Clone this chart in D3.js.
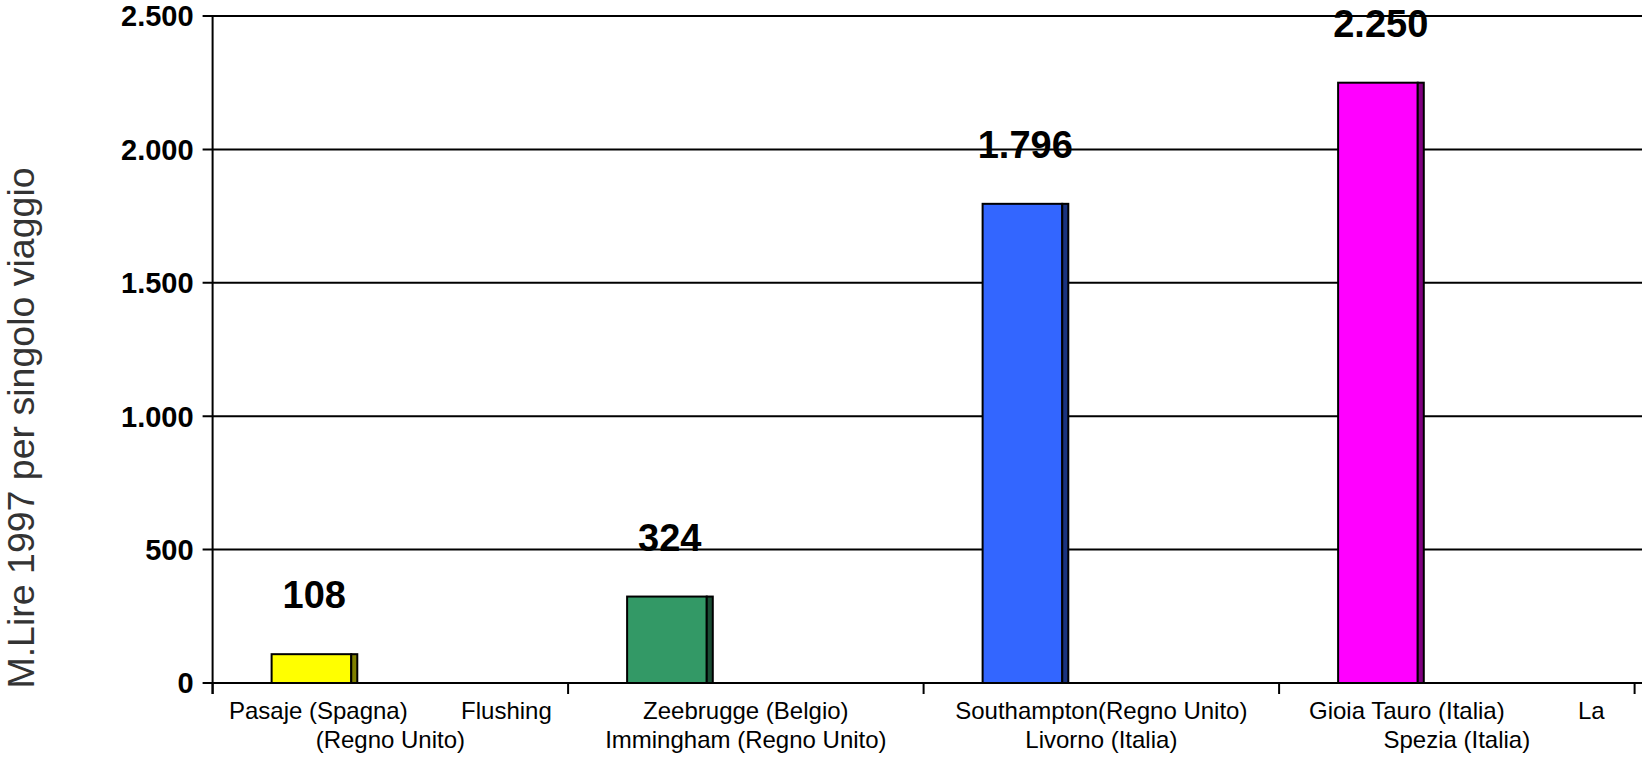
<!DOCTYPE html>
<html>
<head>
<meta charset="utf-8">
<script src="https://cdn.jsdelivr.net/npm/d3@7"></script>
<style>
body { margin: 0; background: #fff; }
svg { display: block; font-family: "Liberation Sans", Arial, sans-serif; }
</style>
</head>
<body>
<div class="chart"></div>
<script>
// porti e costo per singolo viaggio
var ports = ['Pasaje', 'Zeebrugge', 'Southampton', 'Gioia Tauro'];
var values = [108, 324, 1796, 2250];
var portLabels = [
  ['Pasaje (Spagna)        Flushing', '(Regno Unito)'],
  ['Zeebrugge (Belgio)', 'Immingham (Regno Unito)'],
  ['Southampton(Regno Unito)', 'Livorno (Italia)'],
  ['Gioia Tauro (Italia)           La', 'Spezia (Italia)']
];
var fills = ['#ffff00', '#339966', '#3366ff', '#ff00ff'];
var sides = ['#808000', '#1a4d33', '#1a3380', '#800080'];
var yTicks = [0, 500, 1000, 1500, 2000, 2500];
var yTitle = 'M.Lire 1997 per singolo viaggio';

var W = 1642, H = 757;
var plotLeft = 212.6, plotTop = 16, plotRight = 1634.6, plotBottom = 683;

var itFormat = d3.formatLocale({decimal: ',', thousands: '.', grouping: [3], currency: ['', '€']}).format(',d');

var x = d3.scaleBand()
.domain(ports)
.range([plotLeft, plotRight])
.padding(0)
;

var y = d3.scaleLinear()
.domain([0, 2500])
.range([plotBottom, plotTop])
;

var svg = d3
.select('div.chart')
.append('svg')
.attr('width', W)
.attr('height', H)
;

// gridlines
svg.append('g')
.selectAll('line')
.data(yTicks)
.enter()
.append('line')
.attr('x1', plotLeft - 10)
.attr('x2', W)
.attr('y1', function(d){return y(d)})
.attr('y2', function(d){return y(d)})
.attr('stroke', '#000')
.attr('stroke-width', 2)
;

// y tick labels
svg.append('g')
.selectAll('text')
.data(yTicks)
.enter()
.append('text')
.attr('x', plotLeft - 19)
.attr('y', function(d){return y(d)})
.attr('dy', '0.36em')
.attr('text-anchor', 'end')
.attr('font-size', 29)
.attr('font-weight', 'bold')
.text(function(d){return itFormat(d)})
;

// bars
var bw = x.bandwidth();
var bars = svg.append('g')
.selectAll('g')
.data(values)
.enter()
.append('g')
;

bars.append('rect')
.attr('x', function(d, i){return x(ports[i]) + bw * 0.166})
.attr('y', function(d){return y(d)})
.attr('width', bw * 0.224)
.attr('height', function(d){return y(0) - y(d)})
.attr('fill', function(d, i){return fills[i]})
.attr('stroke', '#000')
.attr('stroke-width', 2)
;

bars.append('rect')
.attr('x', function(d, i){return x(ports[i]) + bw * 0.39})
.attr('y', function(d){return y(d)})
.attr('width', bw * 0.017)
.attr('height', function(d){return y(0) - y(d)})
.attr('fill', function(d, i){return sides[i]})
.attr('stroke', '#000')
.attr('stroke-width', 2)
;

// value labels
bars.append('text')
.attr('x', function(d, i){return x(ports[i]) + bw * 0.286})
.attr('y', function(d){return y(d) - 46})
.attr('text-anchor', 'middle')
.attr('font-size', 38)
.attr('font-weight', 'bold')
.text(function(d){return itFormat(d)})
;

// axes lines
svg.append('line')
.attr('x1', plotLeft).attr('x2', plotLeft)
.attr('y1', plotTop).attr('y2', plotBottom + 11)
.attr('stroke', '#000').attr('stroke-width', 2)
;

svg.append('line')
.attr('x1', plotLeft).attr('x2', plotRight + 2)
.attr('y1', plotBottom).attr('y2', plotBottom)
.attr('stroke', '#000').attr('stroke-width', 2)
;

var bounds = ports.map(function(p){return x(p)}).concat([plotRight]);
svg.append('g')
.selectAll('line')
.data(bounds)
.enter()
.append('line')
.attr('x1', function(d){return d})
.attr('x2', function(d){return d})
.attr('y1', plotBottom)
.attr('y2', plotBottom + 11)
.attr('stroke', '#000')
.attr('stroke-width', 2)
;

// category labels
var cat = svg.append('g')
.selectAll('text')
.data(portLabels)
.enter()
.append('text')
.attr('text-anchor', 'middle')
.attr('font-size', 24)
.attr('xml:space', 'preserve')
.style('white-space', 'pre')
;

cat.selectAll('tspan')
.data(function(d, i){return d.map(function(t){return {t: t, i: i}})})
.enter()
.append('tspan')
.attr('x', function(d){return x(ports[d.i]) + bw / 2})
.attr('y', function(d, j){return 719 + j * 29})
.text(function(d){return d.t})
;

// y title
svg.append('text')
.attr('transform', 'translate(34,428) rotate(-90)')
.attr('text-anchor', 'middle')
.attr('font-size', 37.5)
.attr('fill', '#333')
.text(yTitle)
;
</script>
</body>
</html>
